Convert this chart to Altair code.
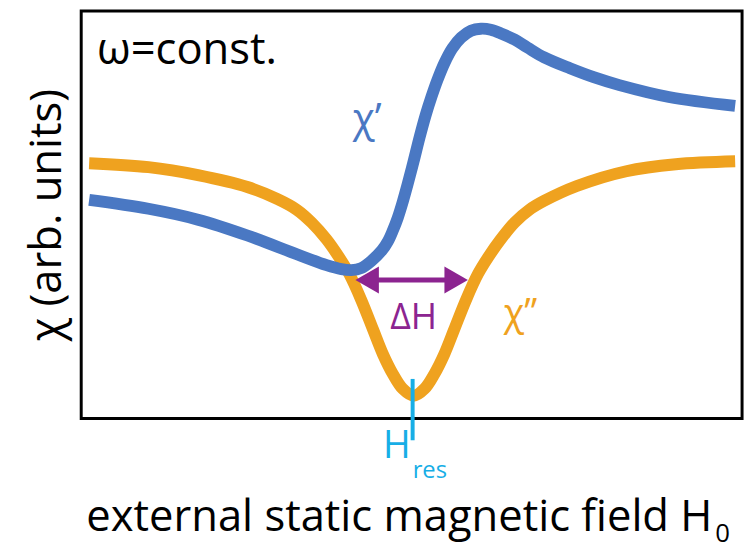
import altair as alt
import pandas as pd

# values (field in arbitrary units, chi in arbitrary units)
field_abs = [8, 68, 118, 168, 198, 218, 233, 248, 260, 271, 283, 295, 305, 315, 325, 336,
             347, 357, 367, 377, 389, 401, 412, 424, 438, 453, 468, 501, 551, 601, 661]
chi_abs = [258, 254, 246, 234, 222, 211, 198, 181, 164, 146, 120, 90, 65, 45, 30, 23,
           30, 45, 65, 90, 120, 146, 164, 181, 198, 211, 220, 235, 250, 257, 260]

field_disp = [8, 68, 118, 168, 218, 248, 263, 273, 283, 293, 304, 310, 315, 320, 325, 330,
              336, 342, 348, 354, 360, 367, 375, 384, 394, 404, 414, 425, 438, 451, 468,
              494, 518, 544, 594, 661]
chi_disp = [221, 212, 201, 185, 166, 155, 151, 150, 152, 159, 170, 179, 190, 203, 219, 237,
            260, 284, 306, 325, 342, 359, 374, 385, 392, 394, 393, 389, 383, 375, 365,
            354, 345, 337, 325, 316]

arrow_x = [276, 392]
arrow_y = [140, 140]
h_res = 335

XMAX, YMAX = 668, 412
FONT = "Open Sans"
BLUE, ORANGE, PURPLE, CYAN = "#4a78c3", "#efa21f", "#8c2490", "#17aee6"

x_sc = alt.Scale(domain=[0, XMAX], nice=False, zero=False)
y_sc = alt.Scale(domain=[0, YMAX], nice=False, zero=False)

abs_df = pd.DataFrame({"H": field_abs, "chi": chi_abs})
disp_df = pd.DataFrame({"H": field_disp, "chi": chi_disp})

X = alt.X("H:Q", scale=x_sc, axis=None)
Y = alt.Y("chi:Q", scale=y_sc,
          axis=alt.Axis(title="χ (arb. units)", domain=False, ticks=False, labels=False,
                        grid=False, titleFont=FONT, titleFontSize=44, titleFontWeight="normal",
                        titleColor="black", titlePadding=12))

orange_line = alt.Chart(abs_df).mark_line(color=ORANGE, strokeWidth=12, interpolate="catmull-rom").encode(x=X, y=Y)
blue_line = alt.Chart(disp_df).mark_line(color=BLUE, strokeWidth=12, interpolate="catmull-rom").encode(
    x=alt.X("H:Q", scale=x_sc, axis=None), y=alt.Y("chi:Q", scale=y_sc))

arr_df = pd.DataFrame({"x1": [arrow_x[0] + 14], "x2": [arrow_x[1] - 14], "y": [arrow_y[0]]})
arrow_rule = alt.Chart(arr_df).mark_rule(color=PURPLE, strokeWidth=5).encode(
    x=alt.X("x1:Q", scale=x_sc), x2="x2:Q", y=alt.Y("y:Q", scale=y_sc))
heads_df = pd.DataFrame({"x": [arrow_x[0] + 13, arrow_x[1] - 13], "y": arrow_y,
                         "shape": ["triangle-left", "triangle-right"]})
heads = alt.Chart(heads_df).mark_point(filled=True, opacity=1, color=PURPLE, size=750).encode(
    x=alt.X("x:Q", scale=x_sc), y=alt.Y("y:Q", scale=y_sc),
    shape=alt.Shape("shape:N", scale=None, legend=None))

hres_df = pd.DataFrame({"x": [h_res], "y1": [40], "y2": [-22]})
hres_rule = alt.Chart(hres_df).mark_rule(color=CYAN, strokeWidth=4, clip=False).encode(
    x=alt.X("x:Q", scale=x_sc), y=alt.Y("y1:Q", scale=y_sc), y2="y2:Q")

labels_df = pd.DataFrame({
    "x": [16, 289, 444, 336, 333, 335],
    "y": [358, 290, 94, 90, -40, -60],
    "text": ["ω=const.", "χ’", "χ’’", "ΔH", "H", "res"],
    "color": ["black", BLUE, ORANGE, PURPLE, CYAN, CYAN],
    "align": ["left", "center", "center", "center", "right", "left"],
    "size": [44, 41, 38, 36, 38, 24],
})


def txt(row):
    d = pd.DataFrame([row])
    return alt.Chart(d).mark_text(font=FONT, fontSize=int(row["size"]), align=row["align"],
                                  baseline="alphabetic", color=row["color"], clip=False).encode(
        x=alt.X("x:Q", scale=x_sc), y=alt.Y("y:Q", scale=y_sc), text="text:N")


texts = [txt(r) for _, r in labels_df.iterrows()]

xt_df = pd.DataFrame({"x": [638, 641], "y": [-114, -125], "text": ["external static magnetic field H", "0"],
                      "size": [44, 26], "align": ["right", "left"], "color": ["black", "black"]})
xtitles = [txt(r) for _, r in xt_df.iterrows()]

chart = alt.layer(orange_line, blue_line, arrow_rule, heads, hres_rule, *texts, *xtitles).properties(
    width=XMAX, height=YMAX,
    autosize=alt.AutoSizeParams(type="none"),
    padding={"left": 74, "top": 0, "right": 6, "bottom": 133},
).configure(background="white").configure_view(stroke="black", strokeWidth=3)

chart.save("out.html", embed_options={"renderer": "svg", "actions": False})
